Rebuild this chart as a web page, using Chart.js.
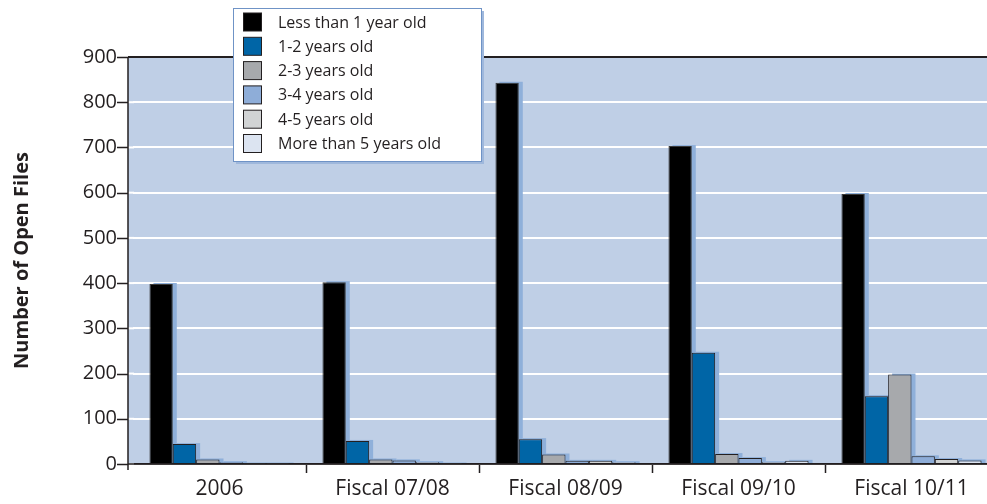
<!DOCTYPE html>
<html>
<head>
<meta charset="utf-8">
<script src="https://cdn.jsdelivr.net/npm/chart.js@4.4.0/dist/chart.umd.min.js"></script>
<style>
  html, body { margin: 0; padding: 0; overflow: hidden; background: #fff; }
  #wrap { width: 1000px; height: 504px; }
</style>
</head>
<body>
<div id="wrap"><canvas id="myChart"></canvas></div>
<script>
const labels = ["2006", "Fiscal 07/08", "Fiscal 08/09", "Fiscal 09/10", "Fiscal 10/11"];

const lessThan1 = [398, 402, 843, 703, 597];
const oneToTwo = [44, 51, 55, 246, 150];
const twoToThree = [10, 10, 21, 22, 198];
const threeToFour = [4, 8, 7, 13, 17];
const fourToFive = [1, 4, 7, 4, 11];
const moreThan5 = [1, 1, 4, 7, 8];

const seriesNames = ["Less than 1 year old", "1-2 years old", "2-3 years old",
  "3-4 years old", "4-5 years old", "More than 5 years old"];
const seriesColors = ["#000000", "#0065a6", "#a7a9ac", "#8eadd8", "#d1d3d4", "#dce4f1"];

const yMax = 900;
const yStep = 100;

const FONT = "'Open Sans', 'DejaVu Sans', sans-serif";
const DARK = "#231f20";
const AXIS_X = 128; // y axis line sits a few px left of the first category

const allSeries = [lessThan1, oneToTwo, twoToThree, threeToFour, fourToFive, moreThan5];

const data = {
  labels: labels,
  datasets: allSeries.map((vals, i) => ({
    label: seriesNames[i],
    data: vals,
    backgroundColor: seriesColors[i],
    borderColor: i === 0 ? "#3a3a3a" : DARK,
    borderWidth: 1,
    borderSkipped: "bottom",
    categoryPercentage: 0.81,
    barPercentage: 1.0,
  })),
};

// plot background, bar shadows, axis lines
const backdrop = {
  id: "backdrop",
  beforeDraw(chart) {
    const { ctx, chartArea: a } = chart;
    ctx.save();
    ctx.fillStyle = "#bfcfe6";
    ctx.fillRect(AXIS_X, a.top, a.right - AXIS_X, a.bottom - a.top);
    ctx.restore();
  },
  beforeDatasetsDraw(chart) {
    const { ctx, chartArea: a, scales } = chart;
    ctx.save();
    // extend grid lines to the axis line
    scales.y.ticks.forEach(t => {
      const py = scales.y.getPixelForValue(t.value);
      ctx.fillStyle = t.value === yMax ? DARK : "#fff";
      ctx.fillRect(AXIS_X, py - 1, a.left - AXIS_X + 1, 2);
    });
    ctx.fillStyle = "#8fb0da";
    chart.data.datasets.forEach((ds, i) => {
      chart.getDatasetMeta(i).data.forEach(bar => {
        const p = bar.getProps(["x", "y", "base", "width"], true);
        ctx.fillRect(p.x - p.width / 2 + 4, p.y - 1, p.width, p.base - p.y + 1);
      });
    });
    ctx.restore();
  },
  afterDatasetsDraw(chart) {
    const { ctx, chartArea: a, scales } = chart;
    ctx.save();
    ctx.strokeStyle = DARK;
    ctx.lineWidth = 1.5;
    ctx.beginPath();
    ctx.moveTo(AXIS_X, a.top);
    ctx.lineTo(AXIS_X, a.bottom + 6);
    ctx.moveTo(AXIS_X, a.bottom);
    ctx.lineTo(a.right, a.bottom);
    scales.y.ticks.forEach(t => {
      const py = Math.round(scales.y.getPixelForValue(t.value)) + 0.5;
      ctx.moveTo(AXIS_X - 11, py);
      ctx.lineTo(AXIS_X, py);
    });
    ctx.stroke();
    ctx.restore();
  },
};

// boxed legend sitting over the top of the plot
const boxLegend = {
  id: "boxLegend",
  afterDraw(chart) {
    const ctx = chart.ctx;
    const x = 233, y = 8, w = 248, h = 153;
    ctx.save();
    ctx.fillStyle = "#9fb8dc";
    ctx.fillRect(x + 3, y + 3, w, h);
    ctx.fillStyle = "#fff";
    ctx.fillRect(x, y, w, h);
    ctx.strokeStyle = "#6f93c6";
    ctx.lineWidth = 1;
    ctx.strokeRect(x + 0.5, y + 0.5, w, h);
    ctx.font = "16px " + FONT;
    ctx.textBaseline = "middle";
    chart.data.datasets.forEach((ds, i) => {
      const ry = 22 + i * 24.3;
      ctx.fillStyle = ds.backgroundColor;
      ctx.fillRect(243.5, ry - 9, 18, 18);
      ctx.strokeStyle = DARK;
      ctx.strokeRect(243.5, ry - 9, 18, 18);
      ctx.fillStyle = DARK;
      ctx.fillText(ds.label, 278, ry + 1);
    });
    ctx.restore();
  },
};

const config = {
  type: "bar",
  data: data,
  plugins: [backdrop, boxLegend],
  options: {
    responsive: true,
    maintainAspectRatio: false,
    animation: false,
    layout: { padding: { top: 57, right: 2, left: 0, bottom: 0 } },
    plugins: {
      legend: { display: false },
      tooltip: { enabled: false },
    },
    scales: {
      x: {
        grid: {
          offset: true,
          drawOnChartArea: false,
          tickLength: 9,
          tickColor: ctx => (ctx.index === 0 ? "rgba(0,0,0,0)" : DARK),
          tickWidth: 1.5,
        },
        border: { color: DARK, width: 1.5 },
        ticks: {
          color: DARK,
          font: { family: FONT, size: 21 },
          padding: 3,
          maxRotation: 0,
        },
        afterFit(s) { s.height = 40; },
      },
      y: {
        min: 0,
        max: yMax,
        ticks: {
          stepSize: yStep,
          color: DARK,
          font: { family: FONT, size: 20 },
          padding: 16,
        },
        grid: {
          color: ctx => (ctx.tick && ctx.tick.value === yMax ? DARK : "#ffffff"),
          lineWidth: 2,
          drawTicks: false,
        },
        border: { display: false },
        title: {
          display: true,
          text: "Number of Open Files",
          color: DARK,
          font: { family: FONT, size: 20, weight: "bold" },
          padding: { top: 10, bottom: 0 },
        },
        afterFit(s) { s.width = 133; },
      },
    },
  },
};

const myChart = new Chart(document.getElementById("myChart"), config);
</script>
</body>
</html>
